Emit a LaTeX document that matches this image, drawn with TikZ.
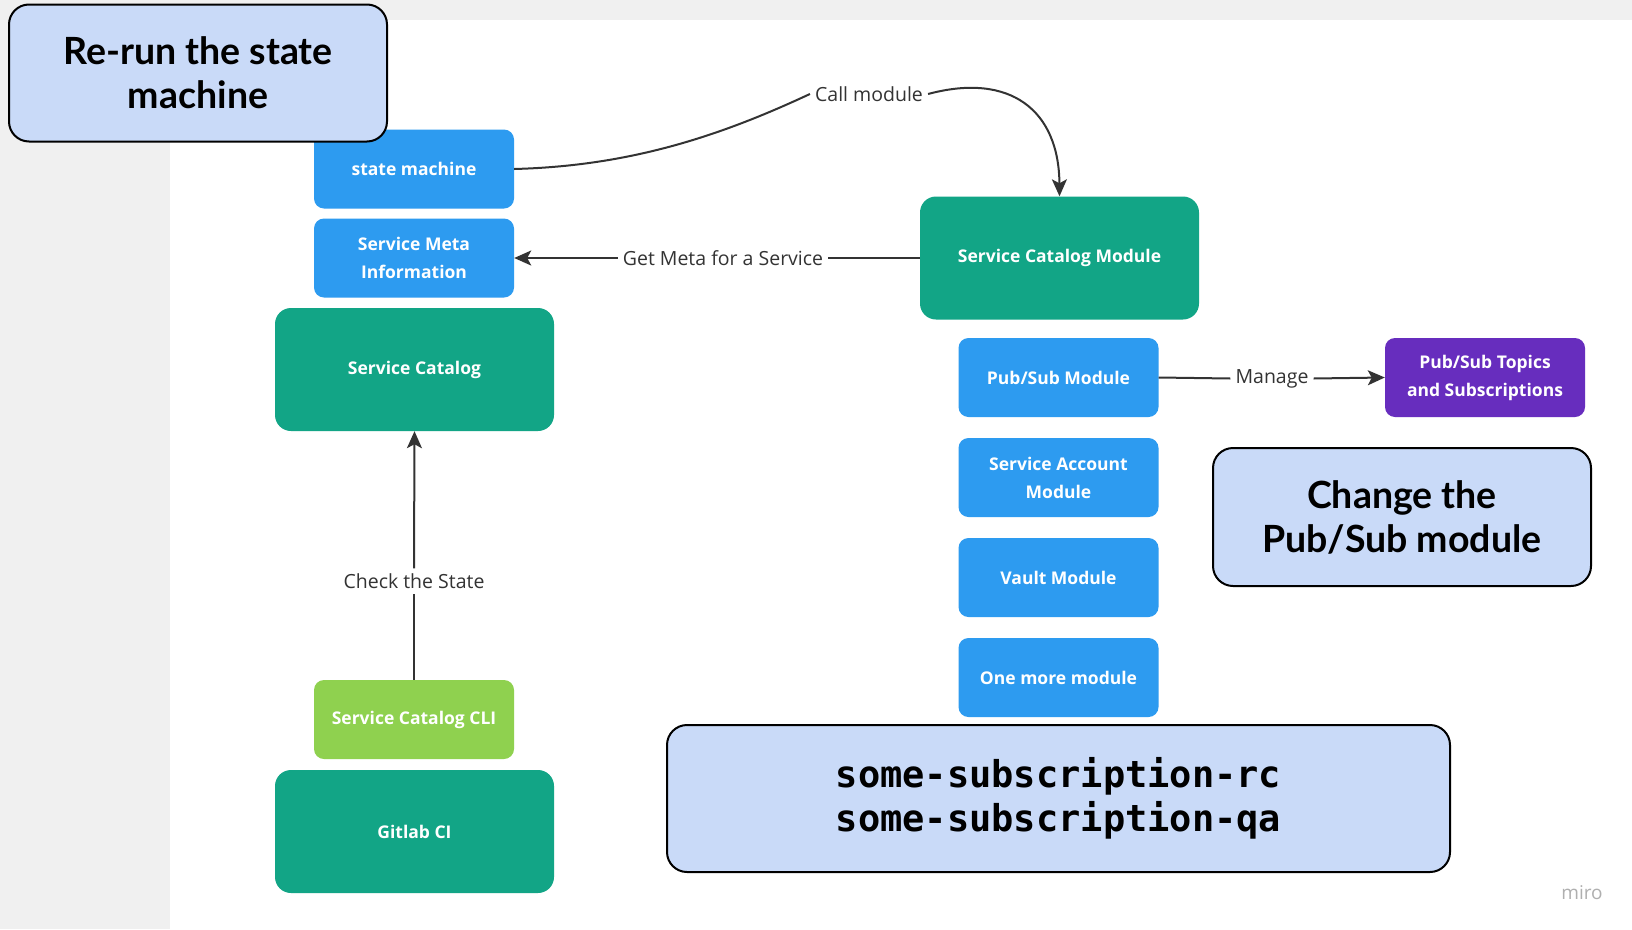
\documentclass[tikz,border=0pt]{standalone}
\usepackage{fontspec}
\setmainfont{Open Sans}
\newfontfamily\notefont{Lato}
\newfontfamily\codefont{DejaVu Sans Mono}
\usetikzlibrary{arrows.meta}

\definecolor{boardgray}{RGB}{240,240,240}
\definecolor{mblue}{RGB}{45,155,240}
\definecolor{mgreen}{RGB}{18,165,134}
\definecolor{mlime}{RGB}{143,209,79}
\definecolor{mpurple}{RGB}{103,45,190}
\definecolor{notefill}{RGB}{201,218,248}
\definecolor{linec}{RGB}{51,51,51}
\definecolor{wmark}{RGB}{175,175,175}

\tikzset{
  box/.style={rounded corners=10pt, text=white, align=center, inner sep=0pt,
    font=\fontsize{17.5}{28}\selectfont\bfseries},
  bluebox/.style={box, fill=mblue, minimum width=200pt, minimum height=79pt},
  limebox/.style={box, fill=mlime, minimum width=200pt, minimum height=79pt},
  purplebox/.style={box, fill=mpurple, minimum width=200pt, minimum height=79pt},
  greenbox/.style={box, fill=mgreen, rounded corners=16pt, minimum width=279pt, minimum height=123pt},
  note/.style={draw=black, line width=2pt, fill=notefill, rounded corners=20pt,
    align=center, inner sep=0pt, text=black},
  notetext/.style={font=\notefont\fontsize{37.5}{44}\selectfont\bfseries},
  lbl/.style={fill=white, text=linec, inner sep=5pt, font=\fontsize{19.5}{23}\selectfont},
  conn/.style={draw=linec, line width=2pt},
  arr/.style={conn, -{Stealth[length=17pt,width=15pt,inset=4pt]}}
}

\begin{document}
\begin{tikzpicture}[x=1pt,y=-1pt]
  \useasboundingbox (0,0) rectangle (1632,929);
  % board background
  \fill[boardgray] (0,0) rectangle (1632,929);
  \fill[white] (170,20) rectangle (1632,929);

  % left column
  \node[bluebox] (sm) at (414,169) {state machine};
  \node[bluebox] (smi) at (414,258) {Service Meta\\Information};
  \node[greenbox] (sc) at (414.5,369.5) {Service Catalog};
  \node[limebox] (cli) at (414,719.5) {Service Catalog CLI};
  \node[greenbox] (gl) at (414.5,831.5) {Gitlab CI};

  % right column
  \node[greenbox] (scm) at (1059.5,258) {Service Catalog Module};
  \node[bluebox] (psm) at (1058.5,377.5) {Pub/Sub Module};
  \node[bluebox] (sam) at (1058.5,477.5) {Service Account\\Module};
  \node[bluebox] (vm) at (1058.5,577.5) {Vault Module};
  \node[bluebox] (omm) at (1058.5,677.5) {One more module};
  \node[purplebox] (pst) at (1485,377.5) {Pub/Sub Topics\\and Subscriptions};

  % connector labels
  \node[lbl] (lcall) at (869,94) {Call module};
  \node[lbl] (lmeta) at (723,258) {Get Meta for a Service};
  \node[lbl] (lmanage) at (1272,378.5) {Manage};
  \node[lbl] (lcheck) at (414,581) {Check the State};

  % connectors
  \draw[conn] (sm.east) .. controls (630,166) and (720,136) .. (lcall.west);
  \draw[arr] (lcall.east) .. controls (1010,72) and (1059,110) .. (scm.north);
  \draw[conn] (scm.west) -- (lmeta.east);
  \draw[arr] (lmeta.west) -- (smi.east);
  \draw[conn] (psm.east) -- (lmanage.west);
  \draw[arr] (lmanage.east) -- (pst.west);
  \draw[conn] (cli.north) -- (lcheck.south);
  \draw[arr] (lcheck.north) -- (sc.south);

  % callouts
  \node[note, notetext, minimum width=378pt, minimum height=137pt]
        (n1) at (198,73) {Re-run the state\\machine};
  \node[note, notetext, minimum width=378pt, minimum height=138pt]
        (n2) at (1402,517) {Change the\\Pub/Sub module};
  \node[note, minimum width=783pt, minimum height=147pt,
        font=\codefont\fontsize{37}{44}\selectfont\bfseries]
        (n3) at (1058.5,798.5) {some-subscription-rc\\some-subscription-qa};

  % board watermark
  \node[text=wmark, font=\fontsize{19}{22}\selectfont, inner sep=0pt] (wm) at (1582,893) {miro};
\end{tikzpicture}
\end{document}
